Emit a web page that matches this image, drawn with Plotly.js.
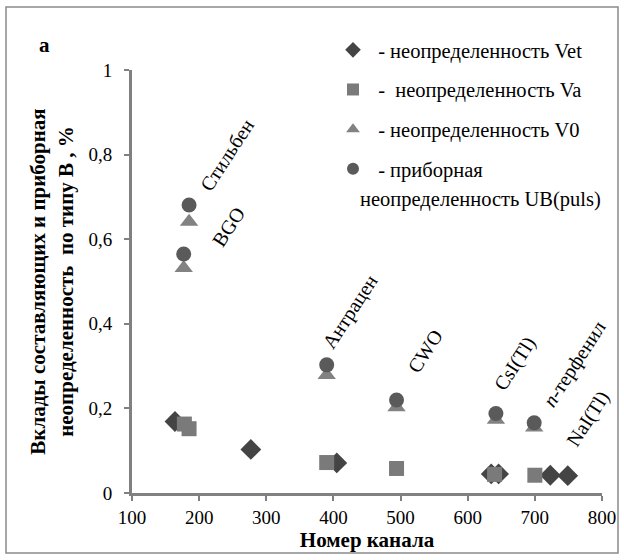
<!DOCTYPE html>
<html>
<head>
<meta charset="utf-8">
<script src="https://cdn.plot.ly/plotly-3.0.1.min.js"></script>
<style>html,body{margin:0;padding:0;background:#fff;}#chart{width:624px;height:560px;}</style>
</head>
<body>
<div id="chart"></div>
<script>
// Data
const vetX = [164, 277, 405, 635, 646, 723, 749];
const vetY = [0.169, 0.103, 0.071, 0.045, 0.045, 0.042, 0.041];
const vaX = [178, 185, 390, 494, 640, 700];
const vaY = [0.163, 0.152, 0.072, 0.058, 0.044, 0.042];
const v0X = [177, 185, 390, 494, 642, 699];
const v0Y = [0.532, 0.641, 0.279, 0.203, 0.173, 0.155];
const ubX = [177, 185, 390, 494, 642, 699];
const ubY = [0.565, 0.681, 0.303, 0.220, 0.188, 0.166];

const seriesNames = [' - неопределенность Vet', ' -  неопределенность Va', ' - неопределенность V0', ' - приборная'];
const ubSecondLine = 'неопределенность UB(puls)';

const labelNames = ['Стильбен', 'BGO', 'Антрацен', 'CWO', 'CsI(Tl)', '<i>n</i>-терфенил', 'NaI(Tl)'];
const labelX = [241, 243, 425, 537, 671, 760, 780];
const labelY = [0.80, 0.63, 0.43, 0.335, 0.305, 0.305, 0.175];

const xTitle = 'Номер канала';
const yTitle = 'Вклады составляющих и приборная<br>неопределенность  по типу В , %';
const panelLabel = 'а';

const serif = 'Liberation Serif, Times New Roman, serif';
const L = 132, T = 70, B = 493, W = 470, H = 423;
const px2x = p => (p - L) / W;
const py2y = p => (B - p) / H;

const traces = [
  {x: vetX, y: vetY, name: seriesNames[0], legendgroup: 'a', mode: 'markers', type: 'scatter',
   marker: {symbol: 'diamond', size: 16, color: '#444444'}},
  {x: vaX, y: vaY, name: seriesNames[1], legendgroup: 'b', mode: 'markers', type: 'scatter',
   marker: {symbol: 'square', size: 15, color: '#7a7a7a'}},
  {x: v0X, y: v0Y, name: seriesNames[2], legendgroup: 'c', mode: 'markers', type: 'scatter',
   marker: {symbol: 'triangle-up', size: 16, color: '#828282'}},
  {x: ubX, y: ubY, name: seriesNames[3], legendgroup: 'd', mode: 'markers', type: 'scatter',
   marker: {symbol: 'circle', size: 15, color: '#5a5a5a'}}
];

const annotations = labelNames.map((t, i) => ({
  x: labelX[i], y: labelY[i], xref: 'x', yref: 'y', text: t, showarrow: false,
  textangle: -57, font: {family: serif, size: 20, color: '#000'}
}));
annotations.push({
  x: px2x(358), y: py2y(199), xref: 'paper', yref: 'paper',
  xanchor: 'left', yanchor: 'middle', text: ubSecondLine, showarrow: false,
  font: {family: serif, size: 20.5, color: '#000'}
});
annotations.push({
  x: px2x(37), y: py2y(31), xref: 'paper', yref: 'paper',
  text: panelLabel, showarrow: false, font: {family: serif, size: 21, color: '#000', weight: 'bold'}
});

const layout = {
  width: 624, height: 560,
  margin: {l: 132, r: 22, t: 70, b: 67},
  paper_bgcolor: '#fff', plot_bgcolor: '#fff',
  separators: ', ',
  font: {family: serif, size: 19, color: '#000'},
  showlegend: true,
  legend: {x: px2x(333), y: py2y(30), xanchor: 'left', yanchor: 'top', itemsizing: 'constant',
           bgcolor: 'rgba(0,0,0,0)', borderwidth: 0, tracegroupgap: 10, traceorder: 'grouped',
           font: {family: serif, size: 20.5, color: '#000'}},
  xaxis: {range: [100, 800], tickvals: [100, 200, 300, 400, 500, 600, 700, 800],
          showgrid: false, zeroline: false, showline: true, linecolor: '#808080', linewidth: 3,
          ticks: 'outside', ticklen: 5, tickwidth: 2, tickcolor: '#808080',
          tickfont: {family: serif, size: 19, color: '#000'},
          title: {text: xTitle, standoff: 4, font: {family: serif, size: 21, color: '#000', weight: 'bold'}}},
  yaxis: {range: [0, 1], tickvals: [0, 0.2, 0.4, 0.6, 0.8, 1],
          showgrid: false, zeroline: false, showline: true, linecolor: '#808080', linewidth: 3,
          ticks: 'outside', ticklen: 5, tickwidth: 2, tickcolor: '#808080', ticklabelstandoff: 8,
          tickfont: {family: serif, size: 19, color: '#000'},
          title: {text: yTitle, standoff: 10, font: {family: serif, size: 21, color: '#000', weight: 'bold'}}},
  shapes: [{type: 'rect', xref: 'paper', yref: 'paper',
            x0: px2x(6), x1: px2x(618), y0: py2y(553), y1: py2y(7),
            line: {color: '#8a8a8a', width: 1.5}, fillcolor: 'rgba(0,0,0,0)'}],
  annotations: annotations
};

Plotly.newPlot('chart', traces, layout, {displayModeBar: false, staticPlot: true});
</script>
</body>
</html>
